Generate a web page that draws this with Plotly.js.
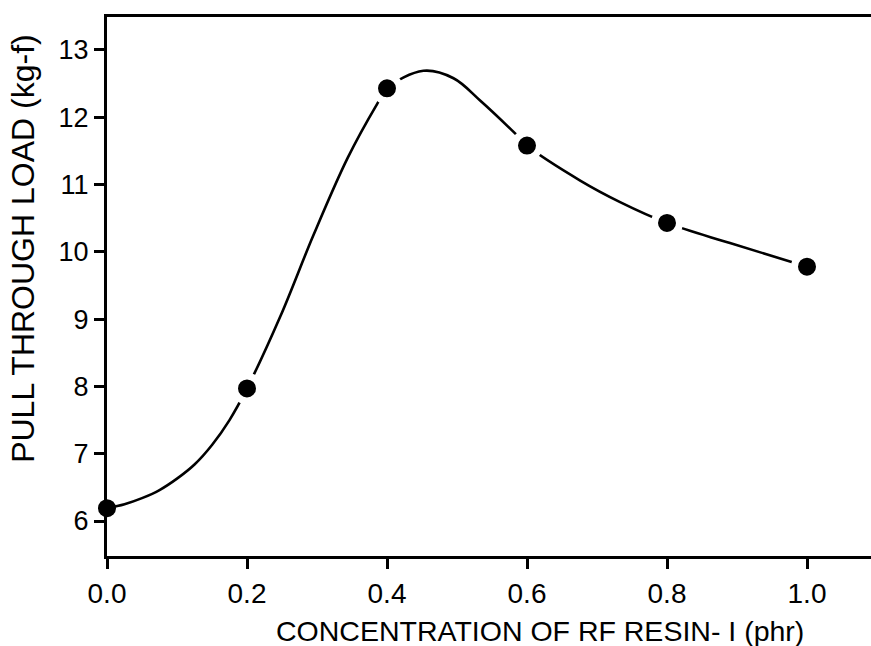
<!DOCTYPE html>
<html>
<head>
<meta charset="utf-8">
<script src="https://cdn.plot.ly/plotly-3.0.1.min.js"></script>
<style>
html,body{margin:0;padding:0;background:#fff;overflow:hidden;}
#chart{width:880px;height:646px;}
</style>
</head>
<body>
<div id="chart"></div>
<script>
// Measured data points
const concentration = [0.0, 0.2, 0.4, 0.6, 0.8, 1.0];
const pullLoad = [6.19, 7.97, 12.43, 11.58, 10.43, 9.78];

const curveX = [0.0, 0.025, 0.05, 0.075, 0.1, 0.125, 0.15, 0.175, 0.2, 0.248, 0.295, 0.344, 0.386, 0.4, 0.452, 0.495, 0.533, 0.583, 0.6, 0.676, 0.733, 0.8, 0.89, 1.0];
const curveY = [6.19, 6.25, 6.34, 6.46, 6.63, 6.84, 7.13, 7.5, 7.97, 9.05, 10.25, 11.4, 12.2, 12.43, 12.69, 12.58, 12.25, 11.76, 11.58, 11.06, 10.74, 10.43, 10.13, 9.78];

const xTicks = [0.0, 0.2, 0.4, 0.6, 0.8, 1.0];
const xTickText = ["0.0", "0.2", "0.4", "0.6", "0.8", "1.0"];
const yTicks = [6, 7, 8, 9, 10, 11, 12, 13];

const xTitle = "CONCENTRATION OF RF RESIN- I (phr)";
const yTitle = "PULL THROUGH LOAD (kg-f)";

const fontFam = "Liberation Sans, Arial, Helvetica, sans-serif";

const traces = [
  {
    x: curveX, y: curveY, type: "scatter", mode: "lines",
    line: {color: "#000", width: 2.6, shape: "spline", smoothing: 1},
    hoverinfo: "skip", showlegend: false
  },
  {
    x: concentration, y: pullLoad, type: "scatter", mode: "markers",
    marker: {color: "#000", opacity: 1, size: [18, 25, 25, 25, 25, 25],
             line: {color: "#fff", width: [0, 7, 7, 7, 7, 7]}},
    cliponaxis: false, showlegend: false
  }
];

const layout = {
  width: 880, height: 646,
  margin: {l: 107, r: 3, t: 17, b: 90},
  paper_bgcolor: "#fff", plot_bgcolor: "#fff",
  font: {family: fontFam, color: "#000", size: 27},
  showlegend: false,
  xaxis: {
    range: [0, 1.1], autorange: false,
    tickvals: xTicks, ticktext: xTickText,
    ticks: "outside", ticklen: 10, tickwidth: 3, tickcolor: "#000",
    showline: true, linewidth: 3, linecolor: "#000", mirror: true,
    showgrid: false, zeroline: false,
    tickfont: {family: fontFam, size: 28, color: "#000"},
    automargin: false
  },
  yaxis: {
    range: [5.48, 13.49], autorange: false,
    tickvals: yTicks,
    ticks: "outside", ticklen: 10, tickwidth: 3, tickcolor: "#000",
    showline: true, linewidth: 3, linecolor: "#000", mirror: true,
    showgrid: false, zeroline: false,
    tickfont: {family: fontFam, size: 27, color: "#000"},
    automargin: false
  },
  annotations: [
    {text: xTitle, xref: "x", yref: "paper", x: 0.619, y: -0.14,
     xanchor: "center", yanchor: "middle", showarrow: false,
     font: {family: fontFam, size: 28.5, color: "#000"}},
    {text: yTitle, xref: "paper", yref: "paper", x: -0.109, y: 0.57,
     xanchor: "center", yanchor: "middle", textangle: -90, showarrow: false,
     font: {family: fontFam, size: 32, color: "#000"}}
  ]
};

Plotly.newPlot("chart", traces, layout, {staticPlot: true, displayModeBar: false});
</script>
</body>
</html>
